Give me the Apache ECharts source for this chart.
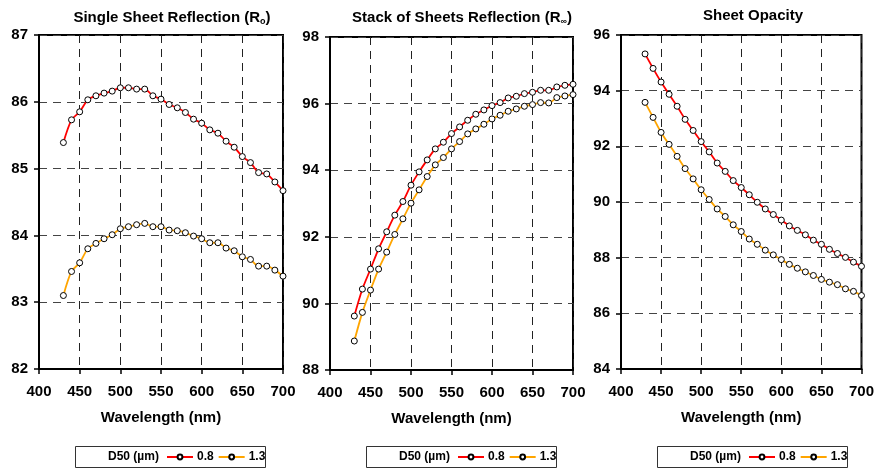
<!DOCTYPE html>
<html><head><meta charset="utf-8">
<script src="https://cdn.jsdelivr.net/npm/echarts@6/dist/echarts.min.js"></script>
<style>html,body{margin:0;padding:0;background:#fff}#c{width:877px;height:471px}</style>
</head><body><div id="c"></div>
<script>
const wavelengths = [430,440,450,460,470,480,490,500,510,520,530,540,550,560,570,580,590,600,610,620,630,640,650,660,670,680,690,700];
const seriesNames = ['0.8','1.3'];
const xTicks = [400,450,500,550,600,650,700];
// Single sheet reflection R0
const r0_08 = [85.39,85.73,85.85,86.03,86.09,86.13,86.16,86.21,86.21,86.19,86.19,86.09,86.04,85.96,85.91,85.84,85.74,85.68,85.58,85.53,85.41,85.32,85.18,85.09,84.94,84.92,84.80,84.67];
const r0_13 = [83.10,83.46,83.59,83.80,83.88,83.95,84.01,84.10,84.13,84.16,84.18,84.13,84.13,84.08,84.07,84.04,83.99,83.95,83.89,83.89,83.81,83.77,83.68,83.64,83.54,83.54,83.48,83.39];
// Stack of sheets reflection Rinf
const rinf_08 = [89.62,90.43,91.03,91.64,92.15,92.65,93.06,93.55,93.95,94.31,94.64,94.84,95.10,95.30,95.50,95.68,95.81,95.94,96.03,96.17,96.22,96.30,96.34,96.40,96.40,96.50,96.55,96.58];
const rinf_13 = [88.87,89.73,90.40,91.03,91.54,92.07,92.54,93.01,93.41,93.81,94.16,94.38,94.64,94.86,95.09,95.24,95.38,95.54,95.65,95.77,95.84,95.92,95.97,96.03,96.02,96.18,96.23,96.27];
// Sheet opacity
const op_08 = [95.32,94.80,94.31,93.87,93.44,92.97,92.57,92.17,91.80,91.40,91.10,90.77,90.52,90.26,89.99,89.75,89.55,89.35,89.14,88.98,88.82,88.63,88.48,88.30,88.15,88.01,87.84,87.69];
const op_13 = [93.58,93.04,92.50,92.07,91.64,91.20,90.83,90.44,90.09,89.75,89.48,89.18,88.94,88.67,88.48,88.27,88.10,87.93,87.76,87.62,87.49,87.36,87.22,87.12,87.03,86.88,86.79,86.64];
const yRanges = [[82,87,1],[88,98,2],[84,96,2]];
const titles = ['Single Sheet Reflection (R{s|o})','Stack of Sheets Reflection (R{s|∞})','Sheet Opacity'];

const FONT = '"Liberation Sans", Arial, sans-serif';
const grids = [
  {left:39, top:35, width:244, height:334},
  {left:330, top:37, width:243, height:333},
  {left:621, top:35, width:243, height:334}
];
const titleCenters = [172, 462, 753];
const panelData = [[r0_08,r0_13],[rinf_08,rinf_13],[op_08,op_13]];
const colors = ['#ff0000','#ffa500'];
const boxLefts = [75, 366, 657];

const option = {
  animation:false,
  backgroundColor:'#fff',
  textStyle:{fontFamily:FONT},
  title: titles.map((t,i)=>({
    text:t, left:titleCenters[i], top:[10,10,8][i], textAlign:'center', padding:0,
    textStyle:{fontFamily:FONT, fontSize:15, fontWeight:'bold', color:'#000',
      rich:{s:{fontFamily:FONT, fontSize:9, fontWeight:'bold', color:'#000', verticalAlign:'bottom', padding:[7,0,0,0]}}}
  })),
  grid: grids.map(g=>Object.assign({show:true, borderColor:'#000', borderWidth:2, backgroundColor:'transparent'}, g)),
  xAxis: grids.map((g,i)=>({
    type:'value', gridIndex:i, min:400, max:700, interval:50,
    name:'Wavelength (nm)', nameLocation:'middle', nameGap:41,
    nameTextStyle:{fontFamily:FONT, fontSize:15, fontWeight:'bold', color:'#000', verticalAlign:'top'},
    axisLine:{show:true, lineStyle:{color:'#000', width:2}},
    axisTick:{show:true, length:5, lineStyle:{color:'#000', width:1.5}},
    axisLabel:{fontFamily:FONT, fontSize:15, fontWeight:'bold', color:'#000', margin:15, showMinLabel:true, showMaxLabel:true},
    splitLine:{show:true, lineStyle:{color:'#222', type:[8,6], width:1}}
  })),
  yAxis: grids.map((g,i)=>({
    type:'value', gridIndex:i, min:yRanges[i][0], max:yRanges[i][1], interval:yRanges[i][2],
    axisLine:{show:true, lineStyle:{color:'#000', width:2}},
    axisTick:{show:true, length:5, lineStyle:{color:'#000', width:1.5}},
    axisLabel:{fontFamily:FONT, fontSize:15, fontWeight:'bold', color:'#000', margin:11},
    splitLine:{show:true, lineStyle:{color:'#444', type:[8,6], width:1}}
  })),
  legend: grids.map((g,i)=>({
    data:seriesNames, left:boxLefts[i]+91, top:451, padding:0, itemWidth:26, itemHeight:6, itemGap:4,
    textStyle:{fontFamily:FONT, fontSize:12, fontWeight:'bold', color:'#000', padding:[0,0,0,-1]},
    selectedMode:false
  })),
  graphic: grids.map((g,i)=>[
    {type:'rect', shape:{x:boxLefts[i]+0.5, y:446.5, width:190, height:21}, style:{fill:'#fff', stroke:'#333', lineWidth:1}, z:-1},
    {type:'text', x:boxLefts[i]+33, y:451, style:{text:'D50 (µm)', font:'bold 12px '+FONT, fill:'#000'}}
  ]).flat(),
  series: []
};
panelData.forEach((pair,i)=>{
  pair.forEach((vals,j)=>{
    option.series.push({
      type:'line', name:seriesNames[j], xAxisIndex:i, yAxisIndex:i,
      data: wavelengths.map((w,k)=>[w, vals[k]]),
      smooth:0.3, symbol:'circle', symbolSize:6, showAllSymbol:true,
      lineStyle:{color:colors[j], width:1.8},
      itemStyle:{color:'#fff', borderColor:'#000', borderWidth:1},
      z:3
    });
  });
});
const chart = echarts.init(document.getElementById('c'), null, {renderer:'canvas'});
chart.setOption(option);
</script></body></html>
